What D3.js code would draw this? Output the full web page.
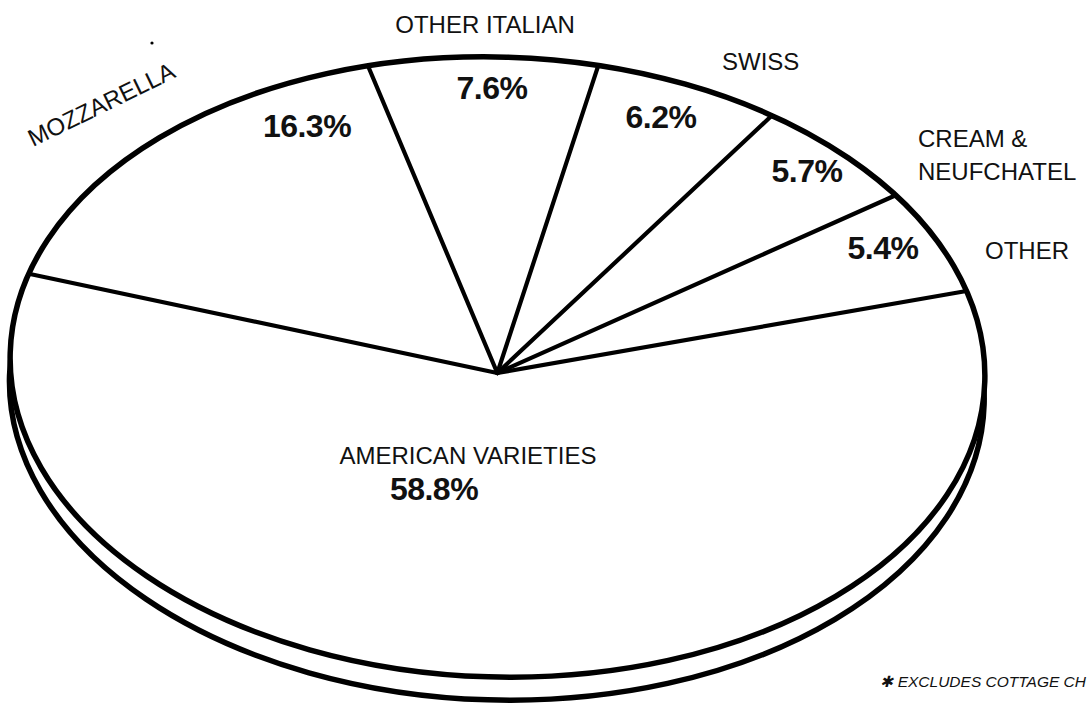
<!DOCTYPE html>
<html>
<head>
<meta charset="utf-8">
<script src="https://cdn.jsdelivr.net/npm/d3@7"></script>
<style>
  html, body { margin: 0; padding: 0; background: #fff; }
  svg { display: block; }
  text { font-family: "Liberation Sans", Arial, Helvetica, sans-serif; fill: #111; }
</style>
</head>
<body>
<div id="chart"></div>
<script>
// ----------------------------------------------------------------------
// cheese production by variety, percent of total (clockwise from top)

var categories = ["OTHER ITALIAN", "SWISS", "CREAM & NEUFCHATEL", "OTHER", "AMERICAN VARIETIES", "MOZZARELLA"];
var shares = [7.6, 6.2, 5.7, 5.4, 58.8, 16.3];
var nameLines = [["OTHER ITALIAN"], ["SWISS"], ["CREAM &", "NEUFCHATEL"], ["OTHER"], ["AMERICAN VARIETIES"], ["MOZZARELLA"]];
var footnote = "\u2731 EXCLUDES COTTAGE CH";   // the scan is cropped here

// hand placed annotation spots (not data)
var namePos = [
    {x: 485, y: 33, anchor: "middle"},
    {x: 722, y: 70, anchor: "start"},
    {x: 918, y: 147, anchor: "start"},
    {x: 985, y: 259, anchor: "start"},
    {x: 468, y: 464, anchor: "middle"},
    {x: 33, y: 147, anchor: "start", rotate: -26}
];
var pctPos = [
    {x: 492, y: 99}, {x: 661, y: 128}, {x: 807, y: 182},
    {x: 883, y: 259}, {x: 434, y: 500}, {x: 307, y: 137}
];

// ----------------------------------------------------------------------

var width = 1089, height = 705;
var cx = 497.5, cy = 367, rx = 487.5, ry = 310;
var tilt = 1.7, rimDepth = 23, apexDrop = 6;

var svg = d3.select("#chart")
            .append("svg:svg")
            .attr("width", width)
            .attr("height", height);

var rows = categories.map(function(c, i) { return {name: c, value: shares[i], i: i}; });

var pie = d3.pie()
            .sort(null)
            .value(function(d) { return d.value; })
            .startAngle(-16.5 * Math.PI / 180)
            .endAngle(-16.5 * Math.PI / 180 + 2 * Math.PI);
var arcs = pie(rows);

// unit circle -> squashed ellipse
var sx = d3.scaleLinear().domain([-1, 1]).range([-rx, rx]);
var sy = d3.scaleLinear().domain([-1, 1]).range([-ry, ry]);

var g = svg.append("g")
           .attr("transform", "translate(" + cx + "," + cy + ") rotate(" + tilt + ")");

// the rim (bottom face) first, then the top face over it
g.append("ellipse")
    .attr("cx", 0).attr("cy", rimDepth)
    .attr("rx", rx).attr("ry", ry)
    .attr("fill", "#fff")
    .attr("stroke", "#000")
    .attr("stroke-width", 5.5);

g.append("ellipse")
    .attr("cx", 0).attr("cy", 0)
    .attr("rx", rx).attr("ry", ry)
    .attr("fill", "#fff")
    .attr("stroke", "#000")
    .attr("stroke-width", 5.5);

// slice boundaries
g.selectAll("line.edge")
    .data(arcs)
    .enter()
    .append("svg:line")
    .attr("class", "edge")
    .attr("x1", 0)
    .attr("y1", apexDrop)
    .attr("x2", function(d) { return sx(Math.sin(d.startAngle)); })
    .attr("y2", function(d) { return sy(-Math.cos(d.startAngle)); })
    .attr("stroke", "#000")
    .attr("stroke-width", 4.2)
    .attr("stroke-linecap", "round");

// names
var names = svg.selectAll("text.name")
    .data(arcs)
    .enter()
    .append("svg:text")
    .attr("class", "name")
    .attr("font-size", 24)
    .attr("text-anchor", function(d) { return namePos[d.index].anchor; })
    .attr("transform", function(d) {
        var p = namePos[d.index];
        return "translate(" + p.x + "," + p.y + ")" + (p.rotate ? " rotate(" + p.rotate + ")" : "");
    });

names.selectAll("tspan")
    .data(function(d) { return nameLines[d.index]; })
    .enter()
    .append("svg:tspan")
    .attr("x", 0)
    .attr("dy", function(d, i) { return i ? 33 : 0; })
    .text(function(d) { return d; });

// percentages
svg.selectAll("text.pct")
    .data(arcs)
    .enter()
    .append("svg:text")
    .attr("class", "pct")
    .attr("x", function(d) { return pctPos[d.index].x; })
    .attr("y", function(d) { return pctPos[d.index].y; })
    .attr("text-anchor", "middle")
    .attr("font-size", 32)
    .attr("font-weight", "bold")
    .attr("letter-spacing", -0.5)
    .text(function(d) { return d3.format(".1f")(d.data.value) + "%"; });

svg.append("text")
    .attr("x", 1086)
    .attr("y", 687)
    .attr("text-anchor", "end")
    .attr("font-size", 15.5)
    .attr("font-style", "italic")
    .text(footnote);

// stray speck from the printed original
svg.append("circle").attr("cx", 152).attr("cy", 43).attr("r", 1.6).attr("fill", "#000");

// ----------------------------------------------------------------------
</script>
</body>
</html>
